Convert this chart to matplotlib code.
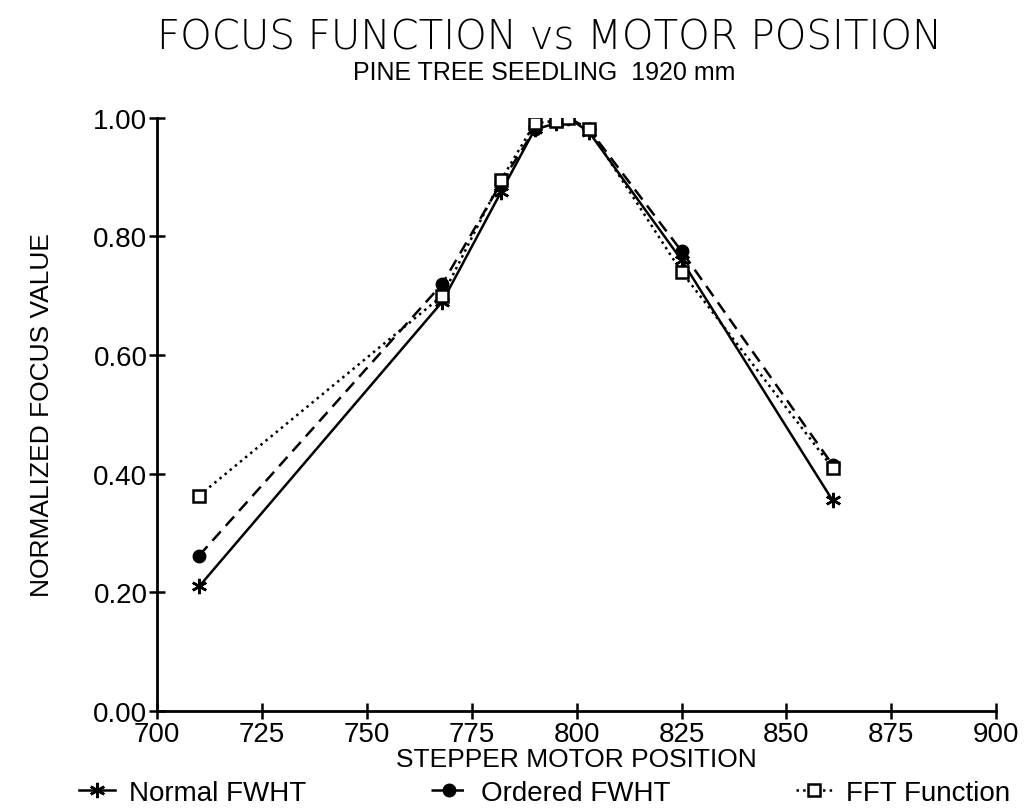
import matplotlib.pyplot as plt

# focus measurements, stepper position vs normalized focus value
positions = [710, 768, 782, 790, 795, 798, 803, 825, 861]
normal_fwht = [0.21, 0.69, 0.875, 0.98, 0.99, 1.00, 0.975, 0.76, 0.355]
ordered_fwht = [0.262, 0.72, 0.89, 0.98, 0.995, 1.00, 0.98, 0.775, 0.415]
fft_function = [0.363, 0.70, 0.895, 0.99, 0.995, 1.00, 0.98, 0.74, 0.41]

x_ticks = [700, 725, 750, 775, 800, 825, 850, 875, 900]
y_ticks = [0.0, 0.2, 0.4, 0.6, 0.8, 1.0]

plt.rcParams['font.family'] = ['Liberation Sans', 'DejaVu Sans']

fig = plt.figure(figsize=(10.27, 8.12), dpi=100)
ax = fig.add_axes([0.153, 0.123, 0.817, 0.731])

ax.plot(positions, normal_fwht, '-', color='black', lw=1.8,
        marker=(6, 2, 0), ms=11, mew=1.8, label='Normal FWHT')
ax.plot(positions, ordered_fwht, '--', color='black', lw=1.8, dashes=(5, 3),
        marker='o', ms=9, mfc='black', label='Ordered FWHT')
ax.plot(positions, fft_function, ':', color='black', lw=1.8,
        marker='s', ms=9, mfc='white', mew=1.8, label='FFT Function')

ax.set_xlim(700, 900)
ax.set_ylim(0, 1.0)
ax.set_xticks(x_ticks)
ax.set_yticks(y_ticks)
ax.set_yticklabels(['%.2f' % v for v in y_ticks])
ax.tick_params(direction='inout', length=12, width=1.8, labelsize=20, pad=1)

for side in ['top', 'right']:
    ax.spines[side].set_visible(False)
for side in ['left', 'bottom']:
    ax.spines[side].set_linewidth(2)

ax.set_xlabel('STEPPER MOTOR POSITION', fontsize=19, labelpad=0)
ax.set_ylabel('NORMALIZED FOCUS VALUE', fontsize=19, labelpad=28)

fig.text(0.535, 0.953, 'FOCUS FUNCTION vs MOTOR POSITION', ha='center',
         va='center', fontsize=29, family='DejaVu Sans', fontweight='light')
fig.text(0.53, 0.91, 'PINE TREE SEEDLING  1920 mm', ha='center',
         va='center', fontsize=18)

fig.legend(loc='center', bbox_to_anchor=(0.53, 0.022), ncol=3, frameon=False,
           fontsize=20, handlelength=1.3, columnspacing=4.5, handletextpad=0.5)

fig.savefig('out.png', dpi=100)
